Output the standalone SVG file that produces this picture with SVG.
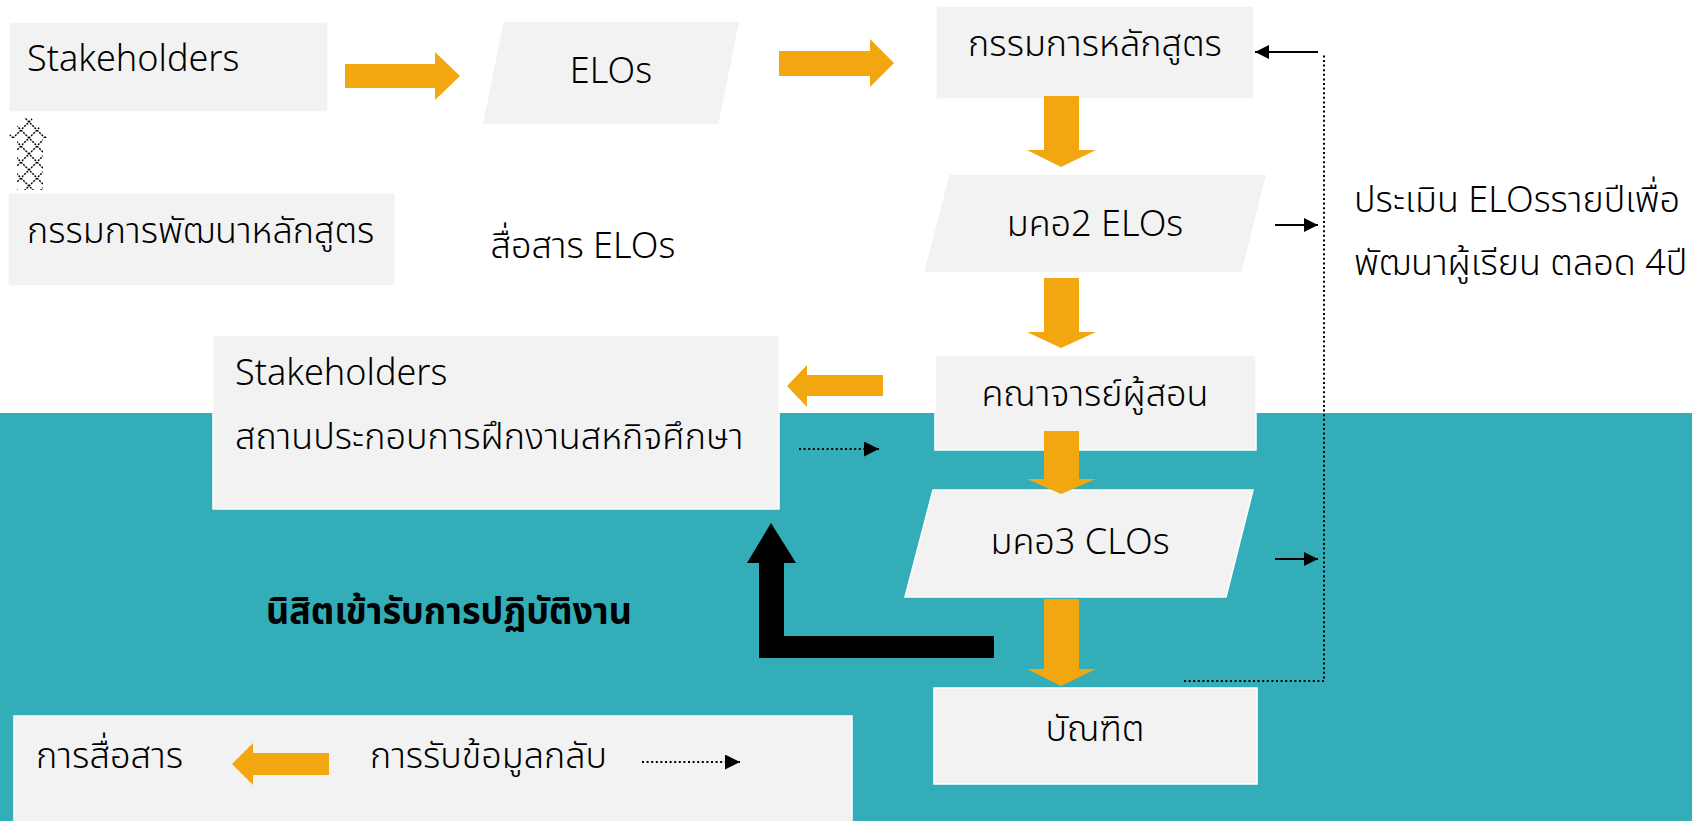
<svg xmlns="http://www.w3.org/2000/svg" width="1692" height="821" viewBox="0 0 1692 821">
<style>
.box{fill:#F2F2F2;stroke:#FFFFFF;stroke-width:1.5}
.t{font-family:"Noto Sans Thai","Noto Sans",sans-serif;font-size:36px;font-weight:300;fill:#000}
.tc{text-anchor:middle}
.n{font-family:"Noto Sans Thai","Noto Sans",sans-serif;fill:#000}
.or{fill:#F2A60F}
.thin{stroke:#000;stroke-width:2;fill:none}
.dot{stroke:#000;stroke-width:2;fill:none;stroke-dasharray:2 2.6}
</style>
<defs>
<pattern id="hatch" patternUnits="userSpaceOnUse" width="16" height="16" x="5" y="2">
<path d="M0,0 L16,16 M16,0 L0,16" stroke="#000" stroke-width="1.4" stroke-dasharray="2 1.2"/>
</pattern>
<marker id="ah" markerUnits="userSpaceOnUse" markerWidth="16" markerHeight="16" refX="14" refY="7" orient="auto">
<path d="M0,0 L14,7 L0,14 Z" fill="#000"/>
</marker>
<marker id="ahd" markerUnits="userSpaceOnUse" markerWidth="16" markerHeight="16" refX="15" refY="7.5" orient="auto">
<path d="M0,0 L15,7.5 L0,15 Z" fill="#000"/>
</marker>
</defs>
<rect x="0" y="0" width="1692" height="821" fill="#FFFFFF"/>
<rect x="0" y="413" width="1692" height="408" fill="#33AEB8"/>

<g id="n-stakeholders">
<rect class="box" x="9" y="22" width="319" height="90"/>
<text class="t" x="27" y="71" font-size="35">Stakeholders</text>
</g>
<g id="n-hatch">
<path d="M28,114 L48,138 L43,138 L43,190 L17,190 L17,138 L7,138 Z" fill="url(#hatch)"/>
</g>
<g id="n-dev-committee">
<rect class="box" x="8" y="193" width="387" height="93"/>
<text class="t" x="27" y="243">กรรมการพัฒนาหลักสูตร</text>
</g>
<g id="n-elos">
<polygon class="box" points="503,21 740,21 719,125 482,125"/>
<text class="t tc" x="611" y="83">ELOs</text>
</g>
<g id="n-communicate">
<text class="t tc" x="583" y="258" font-size="30">สื่อสาร ELOs</text>
</g>
<g id="n-committee">
<rect class="box" x="936" y="6" width="318" height="93"/>
<text class="t tc" x="1095" y="56">กรรมการหลักสูตร</text>
</g>
<g id="n-tqf2">
<polygon class="box" points="949,174 1267,174 1242,273 923,273"/>
<text class="t tc" x="1095" y="236">มคอ2 ELOs</text>
</g>
<g id="n-eval">
<text class="t" x="1354" y="212" font-size="37">ประเมิน ELOsรายปีเพื่อ</text>
<text class="t" x="1354" y="275" font-size="37">พัฒนาผู้เรียน ตลอด 4ปี</text>
</g>
<g id="n-stakeholders2">
<rect class="box" x="213" y="335" width="566" height="174"/>
<text class="t" x="235" y="385" font-size="35">Stakeholders</text>
<text class="t" x="235" y="449">สถานประกอบการฝึกงานสหกิจศึกษา</text>
</g>
<g id="n-teachers">
<rect class="box" x="935" y="355" width="321" height="95"/>
<text class="t tc" x="1095" y="406">คณาจารย์ผู้สอน</text>
</g>
<g id="n-tqf3">
<polygon class="box" points="933,490 1253,490 1226,597 905,597"/>
<text class="t tc" x="1080" y="554">มคอ3 CLOs</text>
</g>
<g id="n-internship">
<text class="n" x="266" y="624" font-size="38" font-weight="bold" textLength="366" lengthAdjust="spacingAndGlyphs">นิสิตเข้ารับการปฏิบัติงาน</text>
</g>
<g id="n-graduate">
<rect class="box" x="934" y="688" width="323" height="96"/>
<text class="t tc" x="1095" y="741">บัณฑิต</text>
</g>
<g id="n-legend">
<rect class="box" x="14" y="716" width="838" height="110"/>
<text class="t" x="36" y="768" font-size="40" textLength="147" lengthAdjust="spacingAndGlyphs">การสื่อสาร</text>
<polygon class="or" points="232,764 253,743 253,753 329,753 329,775 253,775 253,785"/>
<text class="t" x="370" y="768" font-size="40" textLength="237" lengthAdjust="spacingAndGlyphs">การรับข้อมูลกลับ</text>
<line class="dot" x1="642" y1="762" x2="740" y2="762" marker-end="url(#ahd)"/>
</g>

<g id="connectors">
<polygon class="or" points="345,64 435,64 435,52 460,76 435,100 435,88 345,88"/>
<polygon class="or" points="779,51 870,51 870,39 894,63 870,87 870,76 779,76"/>
<polygon class="or" points="1044,96 1079,96 1079,150 1096,150 1061,167 1027,150 1044,150"/>
<polygon class="or" points="1044,278 1079,278 1079,332 1096,332 1061,348 1027,332 1044,332"/>
<polygon class="or" points="1044,431 1079,431 1079,479 1096,479 1061,494 1027,479 1044,479"/>
<polygon class="or" points="1044,599 1079,599 1079,669 1096,669 1061,686 1027,669 1044,669"/>
<polygon class="or" points="787,386 807,365 807,375 883,375 883,396 807,396 807,407"/>
<polygon fill="#000" points="994,636 994,658 759,658 759,563 747,563 771,523 796,563 784,563 784,636"/>
<line class="thin" x1="1318" y1="52" x2="1255" y2="52" marker-end="url(#ah)"/>
<line class="thin" x1="1275" y1="225" x2="1318" y2="225" marker-end="url(#ah)"/>
<line class="thin" x1="1275" y1="559" x2="1318" y2="559" marker-end="url(#ah)"/>
<polyline class="dot" points="1184,681 1324,681 1324,53"/>
<line class="dot" x1="799" y1="449" x2="879" y2="449" marker-end="url(#ahd)"/>
</g>
</svg>
